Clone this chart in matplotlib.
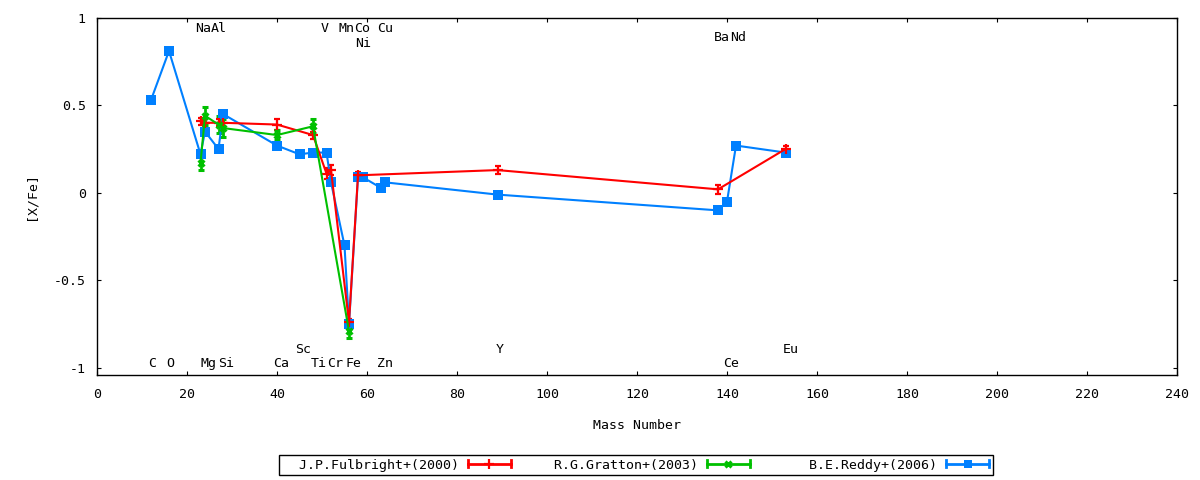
import matplotlib
matplotlib.use("Agg")
import matplotlib.pyplot as plt
from matplotlib.legend_handler import HandlerBase
from matplotlib.lines import Line2D
from matplotlib.ticker import MultipleLocator, FormatStrFormatter

plt.rcParams['font.family'] = ['DejaVu Sans Mono', 'DejaVu Sans']
plt.rcParams['font.size'] = 9.5
plt.rcParams['axes.unicode_minus'] = False

# J.P.Fulbright+(2000)
fulbright_mass = [23, 24, 27, 28, 40, 48, 51, 52, 56, 58, 89, 138, 153]
fulbright_xfe = [0.41, 0.40, 0.40, 0.40, 0.39, 0.33, 0.11, 0.13, -0.74, 0.10, 0.13, 0.02, 0.25]
fulbright_err = [0.02, 0.02, 0.02, 0.02, 0.03, 0.02, 0.03, 0.03, 0.02, 0.02, 0.025, 0.025, 0.02]

# R.G.Gratton+(2003)
gratton_mass = [23, 24, 27, 28, 40, 48, 56]
gratton_xfe = [0.17, 0.44, 0.39, 0.37, 0.33, 0.38, -0.79]
gratton_err = [0.04, 0.05, 0.05, 0.05, 0.03, 0.04, 0.04]

# B.E.Reddy+(2006)
reddy_mass = [12, 16, 23, 24, 27, 28, 40, 45, 48, 51, 52, 55, 56, 58, 59, 63, 64,
              89, 138, 140, 142, 153]
reddy_xfe = [0.53, 0.81, 0.22, 0.35, 0.25, 0.45, 0.27, 0.22, 0.23, 0.23, 0.06, -0.30,
             -0.75, 0.09, 0.09, 0.03, 0.06, -0.01, -0.10, -0.05, 0.27, 0.23]

# element names written in the plot (left edge x, baseline y)
elem_names = ['C', 'O', 'Mg', 'Si', 'Ca', 'Ti', 'Cr', 'Fe', 'Zn', 'Ce',
              'Sc', 'Y', 'Eu',
              'Na', 'Al', 'V', 'Mn', 'Co', 'Cu',
              'Ni', 'Ba', 'Nd']
elem_x = [11.4, 15.3, 23.1, 26.9, 39.2, 47.5, 51.1, 55.3, 62.3, 139.2,
          44.0, 88.5, 152.5,
          21.9, 25.3, 49.7, 53.6, 57.2, 62.3,
          57.3, 137.1, 140.6]
elem_y = [-0.995] * 10 + [-0.915] * 3 + [0.92] * 6 + [0.835, 0.865, 0.865]

series_labels = ['  J.P.Fulbright+(2000)', '    R.G.Gratton+(2003)', '      B.E.Reddy+(2006)']
red, green, blue = '#ff0000', '#00c000', '#0080ff'


class ErrLineHandler(HandlerBase):
    # gnuplot style key sample: line with end caps and the point in the middle
    def create_artists(self, legend, orig_handle, xdescent, ydescent,
                       width, height, fontsize, trans):
        y = height / 2 - ydescent
        x0, x1 = -xdescent, width - xdescent
        c = orig_handle.get_color()
        lw = orig_handle.get_linewidth()
        h = 2.6
        arts = [Line2D([x0, x1], [y, y], color=c, lw=lw),
                Line2D([x0, x0], [y - h, y + h], color=c, lw=lw),
                Line2D([x1, x1], [y - h, y + h], color=c, lw=lw),
                Line2D([(x0 + x1) / 2], [y], color=c, marker=orig_handle.get_marker(),
                       ms=orig_handle.get_markersize(), mew=orig_handle.get_markeredgewidth(),
                       ls='none')]
        for a in arts:
            a.set_transform(trans)
        return arts


fig = plt.figure(figsize=(12, 4.8), dpi=100)
ax = fig.add_axes([97 / 1200, 1 - 375 / 480, 1080 / 1200, (375 - 17.7) / 480])

ax.errorbar(fulbright_mass, fulbright_xfe, yerr=fulbright_err, color=red, lw=1.5,
            marker='+', ms=6.5, mew=1.6, capsize=2.5, capthick=1.5, elinewidth=1.5)
ax.errorbar(gratton_mass, gratton_xfe, yerr=gratton_err, color=green, lw=1.5,
            marker='x', ms=5, mew=2.2, capsize=2.5, capthick=2, elinewidth=2)
ax.plot(reddy_mass, reddy_xfe, color=blue, lw=1.5, marker='s', ms=7.2, mew=0)

for name, x, y in zip(elem_names, elem_x, elem_y):
    ax.text(x, y, name, ha='left', va='baseline')

ax.set_xlim(0, 240)
ax.set_ylim(-1.04, 1.0)
ax.xaxis.set_major_locator(MultipleLocator(20))
ax.yaxis.set_major_locator(MultipleLocator(0.5))
ax.yaxis.set_major_formatter(FormatStrFormatter('%g'))
ax.tick_params(direction='in', top=True, right=True, length=3, width=0.8, pad=8)
ax.tick_params(axis='x', pad=9.5)
for s in ax.spines.values():
    s.set_linewidth(1.0)

ax.set_xlabel('Mass Number', labelpad=13)
ax.set_ylabel('[X/Fe]', labelpad=12)

handles = [Line2D([], [], color=red, lw=2, marker='+', ms=6.5, mew=1.6),
           Line2D([], [], color=green, lw=2, marker='x', ms=5, mew=2.2),
           Line2D([], [], color=blue, lw=2, marker='s', ms=6, mew=0)]
leg = fig.legend(handles, series_labels, loc='center', ncol=3,
                 bbox_to_anchor=(636 / 1200, 1 - 465 / 480), markerfirst=False,
                 handler_map={Line2D: ErrLineHandler()},
                 handlelength=3.26, handletextpad=0.68, columnspacing=0.86,
                 borderpad=0.3, borderaxespad=0, fancybox=False, framealpha=1)
leg.get_frame().set_edgecolor('black')
leg.get_frame().set_linewidth(1.0)

fig.savefig('out.png', dpi=100)
